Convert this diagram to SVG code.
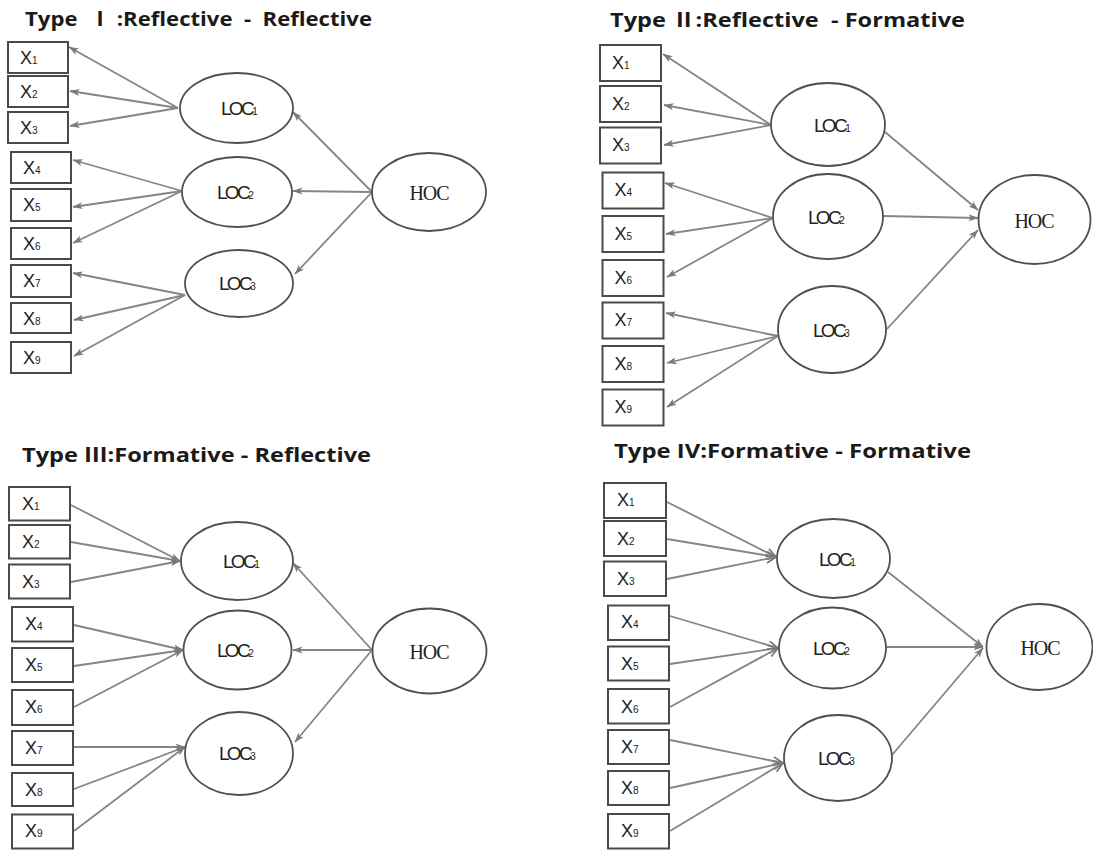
<svg xmlns="http://www.w3.org/2000/svg" width="1093" height="851" viewBox="0 0 1093 851">
  <style>
    .title { font-family: "Open Sans", "Noto Sans", "Noto Sans CJK KR", sans-serif; font-weight: bold; font-size: 20px; fill: #1a1a1a; white-space: pre; }
    .num { font-family: "Liberation Serif", "Noto Sans CJK KR", serif; font-weight: bold; }
    .box { fill: #ffffff; stroke: #4a4a4a; stroke-width: 2; }
    .oval { fill: #ffffff; stroke: #505050; stroke-width: 1.8; }
    .xl { font-family: "Liberation Sans", "DejaVu Sans", sans-serif; font-size: 18px; fill: #222; }
    .sub { font-size: 10px; }
    .loc { font-family: "Liberation Sans", "DejaVu Sans", sans-serif; font-size: 19px; fill: #222; letter-spacing: -2.6px; text-anchor: middle; }
    .hoc { font-family: "Liberation Serif", serif; font-size: 20px; fill: #222; letter-spacing: -1px; text-anchor: middle; }
    .cn line { stroke: #858585; stroke-width: 1.8; fill: none; }
    .cn .f line { marker-end: url(#ah); }
    .cn .o line { marker-end: url(#ao); }
  </style>
  <defs>
    <marker id="ah" viewBox="0 0 10 8" refX="9.5" refY="4" markerWidth="10" markerHeight="8" markerUnits="userSpaceOnUse" orient="auto">
      <path d="M0,0.5 L10,4 L0,7.5 L2.5,4 Z" fill="#7a7a7a"/>
    </marker>
    <marker id="ao" viewBox="0 0 12 10" refX="11" refY="5" markerWidth="12" markerHeight="10" markerUnits="userSpaceOnUse" orient="auto">
      <path d="M1,0.8 L11,5 L1,9.2" fill="none" stroke="#7a7a7a" stroke-width="1.8"/>
    </marker>
  </defs>
  <rect width="1093" height="851" fill="#ffffff"/>

  <!-- ===== Type I ===== -->
  <text class="title" x="25" y="26" textLength="347" lengthAdjust="spacingAndGlyphs">Type  <tspan class="num">Ⅰ</tspan> :Reflective  -  Reflective</text>
  <g class="cn" id="t1-connectors">
    <g class="f">
      <line x1="178" y1="108" x2="69" y2="47"/>
      <line x1="178" y1="108" x2="70" y2="91"/>
      <line x1="178" y1="108" x2="70" y2="126"/>
      <line x1="182" y1="191" x2="73" y2="160"/>
      <line x1="182" y1="191" x2="73" y2="207"/>
      <line x1="182" y1="191" x2="73" y2="243"/>
      <line x1="185" y1="295" x2="73" y2="273"/>
      <line x1="185" y1="295" x2="74" y2="320"/>
      <line x1="185" y1="295" x2="74" y2="356"/>
      <line x1="372" y1="192" x2="293" y2="112"/>
      <line x1="372" y1="192" x2="293" y2="191"/>
      <line x1="372" y1="192" x2="295" y2="274"/>
    </g>
  </g>
  <g id="t1-x1"><rect class="box" x="8" y="42" width="60" height="31"/><text class="xl" x="20" y="64">X<tspan class="sub">1</tspan></text></g>
  <g id="t1-x2"><rect class="box" x="8" y="76" width="60" height="31"/><text class="xl" x="20" y="98">X<tspan class="sub">2</tspan></text></g>
  <g id="t1-x3"><rect class="box" x="8" y="112" width="60" height="31"/><text class="xl" x="20" y="134">X<tspan class="sub">3</tspan></text></g>
  <g id="t1-x4"><rect class="box" x="11" y="152" width="60" height="31"/><text class="xl" x="23" y="174">X<tspan class="sub">4</tspan></text></g>
  <g id="t1-x5"><rect class="box" x="11" y="189" width="60" height="32"/><text class="xl" x="23" y="211">X<tspan class="sub">5</tspan></text></g>
  <g id="t1-x6"><rect class="box" x="11" y="228" width="60" height="31"/><text class="xl" x="23" y="250">X<tspan class="sub">6</tspan></text></g>
  <g id="t1-x7"><rect class="box" x="11" y="265" width="60" height="32"/><text class="xl" x="23" y="287">X<tspan class="sub">7</tspan></text></g>
  <g id="t1-x8"><rect class="box" x="11" y="303" width="60" height="30"/><text class="xl" x="23" y="325">X<tspan class="sub">8</tspan></text></g>
  <g id="t1-x9"><rect class="box" x="11" y="342" width="60" height="31"/><text class="xl" x="23" y="364">X<tspan class="sub">9</tspan></text></g>
  <g id="t1-loc1"><ellipse class="oval" cx="236.5" cy="108" rx="56.5" ry="35"/><text class="loc" x="238" y="115">LOC<tspan class="sub">1</tspan></text></g>
  <g id="t1-loc2"><ellipse class="oval" cx="237" cy="192" rx="55" ry="35"/><text class="loc" x="234" y="199">LOC<tspan class="sub">2</tspan></text></g>
  <g id="t1-loc3"><ellipse class="oval" cx="239" cy="283.5" rx="54" ry="33.5"/><text class="loc" x="236" y="290">LOC<tspan class="sub">3</tspan></text></g>
  <g id="t1-hoc"><ellipse class="oval" cx="429" cy="192" rx="57" ry="39"/><text class="hoc" x="429" y="200">HOC</text></g>

  <!-- ===== Type II ===== -->
  <text class="title" x="610" y="26.5" textLength="355" lengthAdjust="spacingAndGlyphs">Type <tspan class="num">Ⅱ</tspan>:Reflective  - Formative</text>
  <g class="cn" id="t2-connectors">
    <g class="f">
      <line x1="771" y1="125" x2="663" y2="54"/>
      <line x1="771" y1="125" x2="664" y2="105"/>
      <line x1="771" y1="125" x2="664" y2="145"/>
      <line x1="773" y1="218" x2="665" y2="183"/>
      <line x1="773" y1="218" x2="666" y2="234"/>
      <line x1="773" y1="218" x2="667" y2="277"/>
      <line x1="778" y1="336" x2="666" y2="313"/>
      <line x1="778" y1="336" x2="667" y2="363"/>
      <line x1="778" y1="336" x2="667" y2="407"/>
      <line x1="885" y1="132" x2="978" y2="210"/>
      <line x1="883" y1="216" x2="978" y2="218"/>
      <line x1="887" y1="329" x2="978" y2="230"/>
    </g>
  </g>
  <g id="t2-x1"><rect class="box" x="600" y="45" width="61" height="36"/><text class="xl" x="612" y="69">X<tspan class="sub">1</tspan></text></g>
  <g id="t2-x2"><rect class="box" x="600" y="86" width="61" height="36"/><text class="xl" x="612" y="110">X<tspan class="sub">2</tspan></text></g>
  <g id="t2-x3"><rect class="box" x="600" y="127.5" width="61" height="36"/><text class="xl" x="612" y="151">X<tspan class="sub">3</tspan></text></g>
  <g id="t2-x4"><rect class="box" x="602.5" y="172.5" width="61" height="36"/><text class="xl" x="614.5" y="196">X<tspan class="sub">4</tspan></text></g>
  <g id="t2-x5"><rect class="box" x="602.5" y="216" width="61" height="36"/><text class="xl" x="614.5" y="240">X<tspan class="sub">5</tspan></text></g>
  <g id="t2-x6"><rect class="box" x="602.5" y="260" width="61" height="36"/><text class="xl" x="614.5" y="284">X<tspan class="sub">6</tspan></text></g>
  <g id="t2-x7"><rect class="box" x="602.5" y="302.5" width="61" height="36"/><text class="xl" x="614.5" y="326">X<tspan class="sub">7</tspan></text></g>
  <g id="t2-x8"><rect class="box" x="602.5" y="346" width="61" height="36"/><text class="xl" x="614.5" y="370">X<tspan class="sub">8</tspan></text></g>
  <g id="t2-x9"><rect class="box" x="602.5" y="389.5" width="61" height="36"/><text class="xl" x="614.5" y="413">X<tspan class="sub">9</tspan></text></g>
  <g id="t2-loc1"><ellipse class="oval" cx="828" cy="124.5" rx="57" ry="41.5"/><text class="loc" x="831" y="132">LOC<tspan class="sub">1</tspan></text></g>
  <g id="t2-loc2"><ellipse class="oval" cx="828" cy="216.5" rx="55" ry="42.5"/><text class="loc" x="825" y="224">LOC<tspan class="sub">2</tspan></text></g>
  <g id="t2-loc3"><ellipse class="oval" cx="832" cy="329.5" rx="54" ry="43.5"/><text class="loc" x="830" y="337">LOC<tspan class="sub">3</tspan></text></g>
  <g id="t2-hoc"><ellipse class="oval" cx="1034.5" cy="219.5" rx="56" ry="44.5"/><text class="hoc" x="1034" y="228">HOC</text></g>

  <!-- ===== Type III ===== -->
  <text class="title" x="22" y="462" textLength="349" lengthAdjust="spacingAndGlyphs">Type <tspan class="num">Ⅲ</tspan>:Formative - Reflective</text>
  <g class="cn" id="t3-connectors">
    <g class="f">
      <line x1="71" y1="505" x2="180" y2="561"/>
      <line x1="71" y1="542" x2="180" y2="561"/>
      <line x1="71" y1="582" x2="180" y2="561"/>
      <line x1="74" y1="625" x2="183" y2="650"/>
      <line x1="74" y1="666" x2="183" y2="650"/>
      <line x1="74" y1="707" x2="183" y2="650"/>
      <line x1="74" y1="747" x2="185" y2="747"/>
      <line x1="74" y1="789" x2="185" y2="747"/>
      <line x1="74" y1="831" x2="185" y2="747"/>
      <line x1="372" y1="650" x2="293" y2="563"/>
      <line x1="372" y1="650" x2="293" y2="650"/>
      <line x1="372" y1="650" x2="295" y2="742"/>
    </g>
  </g>
  <g id="t3-x1"><rect class="box" x="9" y="487" width="61" height="33.5"/><text class="xl" x="22" y="510">X<tspan class="sub">1</tspan></text></g>
  <g id="t3-x2"><rect class="box" x="9" y="525" width="61" height="33.5"/><text class="xl" x="22" y="548">X<tspan class="sub">2</tspan></text></g>
  <g id="t3-x3"><rect class="box" x="9" y="564.5" width="61" height="34"/><text class="xl" x="22" y="588">X<tspan class="sub">3</tspan></text></g>
  <g id="t3-x4"><rect class="box" x="12" y="607" width="61" height="34.5"/><text class="xl" x="25" y="630">X<tspan class="sub">4</tspan></text></g>
  <g id="t3-x5"><rect class="box" x="12" y="648" width="61" height="34"/><text class="xl" x="25" y="671">X<tspan class="sub">5</tspan></text></g>
  <g id="t3-x6"><rect class="box" x="12" y="690" width="61" height="35"/><text class="xl" x="25" y="713">X<tspan class="sub">6</tspan></text></g>
  <g id="t3-x7"><rect class="box" x="12" y="731" width="61" height="34"/><text class="xl" x="25" y="754">X<tspan class="sub">7</tspan></text></g>
  <g id="t3-x8"><rect class="box" x="12" y="773" width="61" height="33"/><text class="xl" x="25" y="796">X<tspan class="sub">8</tspan></text></g>
  <g id="t3-x9"><rect class="box" x="12" y="814.5" width="61" height="34"/><text class="xl" x="25" y="837">X<tspan class="sub">9</tspan></text></g>
  <g id="t3-loc1"><ellipse class="oval" cx="237" cy="561" rx="56" ry="39"/><text class="loc" x="240" y="568">LOC<tspan class="sub">1</tspan></text></g>
  <g id="t3-loc2"><ellipse class="oval" cx="237.5" cy="650" rx="54" ry="39.5"/><text class="loc" x="234" y="657">LOC<tspan class="sub">2</tspan></text></g>
  <g id="t3-loc3"><ellipse class="oval" cx="239" cy="753.5" rx="54" ry="41.5"/><text class="loc" x="236" y="760">LOC<tspan class="sub">3</tspan></text></g>
  <g id="t3-hoc"><ellipse class="oval" cx="429.5" cy="651" rx="57" ry="42.5"/><text class="hoc" x="429" y="659">HOC</text></g>

  <!-- ===== Type IV ===== -->
  <text class="title" x="614" y="458" textLength="357" lengthAdjust="spacingAndGlyphs">Type IV:Formative - Formative</text>
  <g class="cn" id="t4-connectors">
    <g class="o">
      <line x1="667" y1="502" x2="776" y2="557"/>
      <line x1="667" y1="539" x2="776" y2="557"/>
      <line x1="667" y1="579" x2="776" y2="557"/>
      <line x1="670" y1="616" x2="778" y2="648"/>
      <line x1="670" y1="664" x2="778" y2="648"/>
      <line x1="670" y1="707" x2="778" y2="648"/>
      <line x1="670" y1="740" x2="783" y2="763"/>
      <line x1="670" y1="788" x2="783" y2="763"/>
      <line x1="670" y1="831" x2="783" y2="763"/>
    </g>
    <g class="f">
      <line x1="888" y1="572" x2="983" y2="647"/>
      <line x1="887" y1="647" x2="983" y2="647"/>
      <line x1="892" y1="755" x2="983" y2="648"/>
    </g>
  </g>
  <g id="t4-x1"><rect class="box" x="604" y="483" width="62" height="35"/><text class="xl" x="617" y="506">X<tspan class="sub">1</tspan></text></g>
  <g id="t4-x2"><rect class="box" x="604" y="521" width="62" height="35"/><text class="xl" x="617" y="545">X<tspan class="sub">2</tspan></text></g>
  <g id="t4-x3"><rect class="box" x="604" y="561.5" width="62" height="34.5"/><text class="xl" x="617" y="585">X<tspan class="sub">3</tspan></text></g>
  <g id="t4-x4"><rect class="box" x="608" y="605.5" width="61" height="34.5"/><text class="xl" x="621" y="628">X<tspan class="sub">4</tspan></text></g>
  <g id="t4-x5"><rect class="box" x="608" y="646.5" width="61" height="34"/><text class="xl" x="621" y="670">X<tspan class="sub">5</tspan></text></g>
  <g id="t4-x6"><rect class="box" x="608" y="689" width="61" height="34.5"/><text class="xl" x="621" y="713">X<tspan class="sub">6</tspan></text></g>
  <g id="t4-x7"><rect class="box" x="608" y="730" width="61" height="34"/><text class="xl" x="621" y="753">X<tspan class="sub">7</tspan></text></g>
  <g id="t4-x8"><rect class="box" x="608" y="771" width="61" height="34"/><text class="xl" x="621" y="794">X<tspan class="sub">8</tspan></text></g>
  <g id="t4-x9"><rect class="box" x="608" y="814" width="61" height="34.5"/><text class="xl" x="621" y="837">X<tspan class="sub">9</tspan></text></g>
  <g id="t4-loc1"><ellipse class="oval" cx="833.5" cy="558.5" rx="56.5" ry="39.5"/><text class="loc" x="836" y="566">LOC<tspan class="sub">1</tspan></text></g>
  <g id="t4-loc2"><ellipse class="oval" cx="832.5" cy="648" rx="53.5" ry="40.5"/><text class="loc" x="830" y="655">LOC<tspan class="sub">2</tspan></text></g>
  <g id="t4-loc3"><ellipse class="oval" cx="838" cy="758" rx="54" ry="43"/><text class="loc" x="835" y="765">LOC<tspan class="sub">3</tspan></text></g>
  <g id="t4-hoc"><ellipse class="oval" cx="1039.5" cy="647" rx="53" ry="43"/><text class="hoc" x="1040" y="655">HOC</text></g>
</svg>
